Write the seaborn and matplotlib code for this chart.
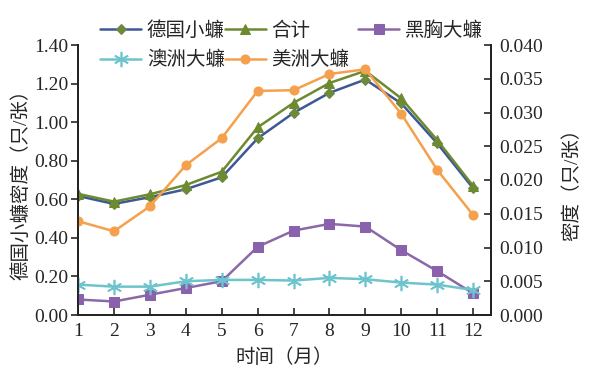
import numpy as np
import pandas as pd
import matplotlib
matplotlib.use('Agg')
import matplotlib.pyplot as plt
from matplotlib.ticker import FormatStrFormatter
import seaborn as sns

# data
months = list(range(1, 13))
german = [0.617, 0.576, 0.611, 0.652, 0.714, 0.916, 1.048, 1.152, 1.221, 1.097, 0.890, 0.657]
total = [0.628, 0.588, 0.626, 0.674, 0.743, 0.973, 1.100, 1.203, 1.266, 1.123, 0.907, 0.669]
smokybrown = [0.0023, 0.0020, 0.0030, 0.0040, 0.0050, 0.0101, 0.0125, 0.0135, 0.0131, 0.0096, 0.0065, 0.0032]
australian = [0.0045, 0.0042, 0.0042, 0.0050, 0.0052, 0.0052, 0.0051, 0.0055, 0.0053, 0.0048, 0.0045, 0.0037]
american = [0.0139, 0.0124, 0.0161, 0.0222, 0.0262, 0.0332, 0.0333, 0.0357, 0.0364, 0.0298, 0.0215, 0.0148]

sns.set_style('ticks')
plt.rcParams['font.family'] = ['Liberation Serif', 'Noto Sans CJK SC']
plt.rcParams['axes.unicode_minus'] = False

fig = plt.figure(figsize=(5.96, 3.75), dpi=100)
ax = fig.add_axes([0.131, 0.16, 0.693, 0.72])
ax2 = ax.twinx()

lw = 1.8
sns.lineplot(x=months, y=german, ax=ax, color='#3d5995', lw=lw, marker='D', ms=5,
             markerfacecolor='#6b8a3c', markeredgecolor='#6b8a3c', label='德国小蠊')
sns.lineplot(x=months, y=total, ax=ax, color='#6e8a30', lw=lw, marker='^', ms=6.5,
             markerfacecolor='#6e8a30', markeredgecolor='#6e8a30', label='合计')
sns.lineplot(x=months, y=smokybrown, ax=ax2, color='#8c68a8', lw=lw, marker='s', ms=6.5,
             markerfacecolor='#8a62ab', markeredgecolor='#8a62ab', label='黑胸大蠊')
sns.lineplot(x=months, y=australian, ax=ax2, color='#6ec4cc', lw=lw, marker=(6, 2, 0), ms=11,
             markeredgecolor='#6ec4cc', markeredgewidth=1.2, label='澳洲大蠊')
sns.lineplot(x=months, y=american, ax=ax2, color='#f5a04c', lw=lw, marker='o', ms=6.5,
             markerfacecolor='#f5a04c', markeredgecolor='#f5a04c', label='美洲大蠊')

fs = 14
ax.set_xlim(1, 12.5)
ax.set_ylim(0, 1.4)
ax2.set_ylim(0, 0.04)
ax.set_xticks(months)
ax.set_yticks(np.arange(0, 1.41, 0.2))
ax2.set_yticks(np.arange(0, 0.0401, 0.005))
ax.yaxis.set_major_formatter(FormatStrFormatter('%.2f'))
ax2.yaxis.set_major_formatter(FormatStrFormatter('%.3f'))

ax.tick_params(axis='y', direction='out', length=5, width=1.2, labelsize=fs, pad=2)
ax.tick_params(axis='x', direction='in', length=5, width=1.2, labelsize=fs, pad=6)
ax2.tick_params(axis='y', direction='in', length=5, width=1.2, labelsize=fs, pad=6)

for a in (ax, ax2):
    a.spines['top'].set_visible(False)
    for s in ('left', 'right', 'bottom'):
        a.spines[s].set_linewidth(1.3)
        a.spines[s].set_color('#222222')
ax2.spines['right'].set_visible(True)

ax.set_xlabel('时间（月）', fontsize=fs, labelpad=6)
ax.set_ylabel('德国小蠊密度（只/张）', fontsize=fs, labelpad=3)
ax2.set_ylabel('密度（只/张）', fontsize=fs, labelpad=14)

h1, l1 = ax.get_legend_handles_labels()
h2, l2 = ax2.get_legend_handles_labels()
ax.get_legend().remove()
ax2.get_legend().remove()

leg_kw = dict(frameon=False, fontsize=fs, handlelength=2.1, handletextpad=0.3,
              columnspacing=0.0, labelspacing=0.56, borderpad=0.3, loc='upper left')
# first two columns
fig.legend([h1[0], h2[1], h1[1], h2[2]], [l1[0], l2[1], l1[1], l2[2]], ncol=2,
           bbox_to_anchor=(0.142, 0.985), **leg_kw)
# third column
fig.legend([h2[0]], [l2[0]], ncol=1, bbox_to_anchor=(0.575, 0.985), **leg_kw)

fig.savefig('out.png', dpi=100)
